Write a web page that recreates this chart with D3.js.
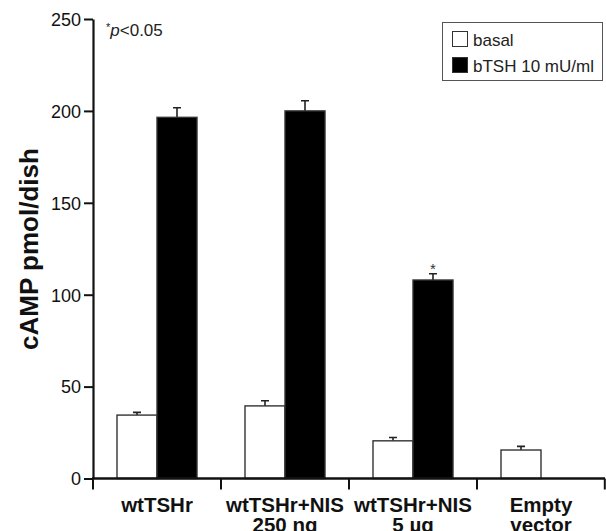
<!DOCTYPE html>
<html>
<head>
<meta charset="utf-8">
<script src="https://cdn.jsdelivr.net/npm/d3@7"></script>
<style>
  body { margin: 0; background: #fff; }
  svg { display: block; }
  text { font-family: "Liberation Sans", Arial, Helvetica, sans-serif; }
</style>
</head>
<body>
<div id="chart"></div>
<script>
// data
const categories = ['wtTSHr', 'wtTSHr+NIS|250 ng', 'wtTSHr+NIS|5 µg', 'Empty|vector'];
const seriesNames = ['basal', 'bTSH 10 mU/ml'];
const basal = [34.5, 39.5, 20.5, 15.5];
const basalErr = [1.5, 2.8, 1.8, 2.0];
const btsh = [196.5, 200, 108, null];
const btshErr = [5.2, 5.5, 3.4, null];
const significant = [false, false, true, false];
const yTicks = [0, 50, 100, 150, 200, 250];

const width = 606, height = 531;
const margin = { left: 93, right: 1, top: 19, bottom: 52 };

const svg = d3.select('#chart').append('svg')
  .attr('width', width)
  .attr('height', height);

const x0 = d3.scaleBand()
  .domain(categories)
  .range([margin.left, width - margin.right])
  .paddingInner(0)
  .paddingOuter(0);

const x1 = d3.scaleBand()
  .domain(seriesNames)
  .range([x0.bandwidth() * 0.1875, x0.bandwidth() * 0.8125])
  .padding(0);

const y = d3.scaleLinear()
  .domain([0, 250])
  .range([height - margin.bottom - 0.5, margin.top]);

const fills = { 'basal': '#fff', 'bTSH 10 mU/ml': '#000' };

// rows for grouped bars
const rows = categories.map((c, i) => ({
  cat: c,
  bars: [
    { s: seriesNames[0], v: basal[i], e: basalErr[i], sig: false },
    { s: seriesNames[1], v: btsh[i], e: btshErr[i], sig: significant[i] }
  ].filter(b => b.v != null)
}));

const groups = svg.selectAll('.grp')
  .data(rows)
  .enter()
  .append('g')
  .attr('class', 'grp')
  .attr('transform', d => `translate(${x0(d.cat)},0)`);

// error bars (upper only), drawn first so the bar covers the stem
groups.selectAll('.err')
  .data(d => d.bars)
  .enter()
  .append('path')
  .attr('class', 'err')
  .attr('fill', 'none')
  .attr('stroke', '#222')
  .attr('stroke-width', 1.6)
  .attr('d', d => {
    const cx = x1(d.s) + x1.bandwidth() / 2;
    const top = y(d.v + d.e);
    return `M${cx},${y(d.v)}V${top}M${cx - 4},${top}H${cx + 4}`;
  });

groups.selectAll('.bar')
  .data(d => d.bars)
  .enter()
  .append('rect')
  .attr('class', 'bar')
  .attr('x', d => x1(d.s))
  .attr('width', x1.bandwidth())
  .attr('y', d => y(d.v))
  .attr('height', d => y(0) - y(d.v))
  .attr('fill', d => fills[d.s])
  .attr('stroke', '#333')
  .attr('stroke-width', 1.4);

// significance marks
groups.selectAll('.sig')
  .data(d => d.bars.filter(b => b.sig))
  .enter()
  .append('text')
  .attr('class', 'sig')
  .attr('x', d => x1(d.s) + x1.bandwidth() / 2)
  .attr('y', d => y(d.v + d.e) + 0)
  .attr('text-anchor', 'middle')
  .style('font-size', '15px')
  .style('fill', '#333')
  .text('*');

// y axis
const yAxis = svg.append('g')
  .attr('transform', `translate(${margin.left},0)`)
  .call(d3.axisLeft(y).tickValues(yTicks).tickSize(9).tickPadding(3).tickSizeOuter(0));
yAxis.select('.domain').attr('stroke', '#111').attr('stroke-width', 2.2);
yAxis.selectAll('.tick line').attr('stroke', '#111').attr('stroke-width', 2);
yAxis.selectAll('.tick text')
  .style('font-size', '18px')
  .style('fill', '#111')
  .attr('dy', '0.35em');

// x axis: ticks at group boundaries
const xBase = y(0);
svg.append('line')
  .attr('x1', margin.left - 1).attr('x2', width - margin.right)
  .attr('y1', xBase).attr('y2', xBase)
  .attr('stroke', '#111').attr('stroke-width', 2.4);

const bounds = categories.map(c => x0(c)).concat([x0.range()[1]]);
svg.selectAll('.xtick')
  .data(bounds)
  .enter()
  .append('line')
  .attr('x1', d => Math.min(d, width - 1.2)).attr('x2', d => Math.min(d, width - 1.2))
  .attr('y1', xBase).attr('y2', xBase + 11)
  .attr('stroke', '#111').attr('stroke-width', 2);

const xl = svg.selectAll('.xlab')
  .data(categories)
  .enter()
  .append('text')
  .attr('class', 'xlab')
  .attr('x', d => x0(d) + x0.bandwidth() / 2)
  .attr('y', 512)
  .attr('text-anchor', 'middle')
  .style('font-size', '20.5px')
  .style('font-weight', 'bold')
  .style('fill', '#111');
xl.selectAll('tspan')
  .data(d => d.split('|').map(t => ({ t, cx: x0(d) + x0.bandwidth() / 2 })))
  .enter()
  .append('tspan')
  .attr('x', d => d.cx)
  .attr('dy', (d, i) => i === 0 ? 0 : 19.5)
  .text(d => d.t);

// y label
svg.append('text')
  .attr('transform', 'translate(38,249) rotate(-90)')
  .attr('text-anchor', 'middle')
  .style('font-size', '26px')
  .style('font-weight', 'bold')
  .style('fill', '#111')
  .text('cAMP pmol/dish');

// p-value note
const note = svg.append('text')
  .attr('x', 106)
  .attr('y', 36)
  .style('font-size', '17px')
  .style('fill', '#222');
note.append('tspan').attr('dy', -5).style('font-size', '11px').text('*');
note.append('tspan').attr('dy', 5).style('font-style', 'italic').text('p');
note.append('tspan').text('<0.05');

// legend
const legend = svg.append('g');
legend.append('rect')
  .attr('x', 442.5).attr('y', 22.5)
  .attr('width', 160).attr('height', 58)
  .attr('fill', '#fff')
  .attr('stroke', '#555')
  .attr('stroke-width', 1);

const li = legend.selectAll('.li')
  .data(seriesNames)
  .enter()
  .append('g')
  .attr('transform', (d, i) => `translate(452,${31 + i * 26})`);
li.append('rect')
  .attr('x', 0.5).attr('y', 0.5)
  .attr('width', 15).attr('height', 15)
  .attr('fill', d => fills[d])
  .attr('stroke', '#333')
  .attr('stroke-width', 1);
li.append('text')
  .attr('x', 21)
  .attr('y', 15)
  .style('font-size', '17px')
  .style('fill', '#222')
  .text(d => d);
</script>
</body>
</html>
